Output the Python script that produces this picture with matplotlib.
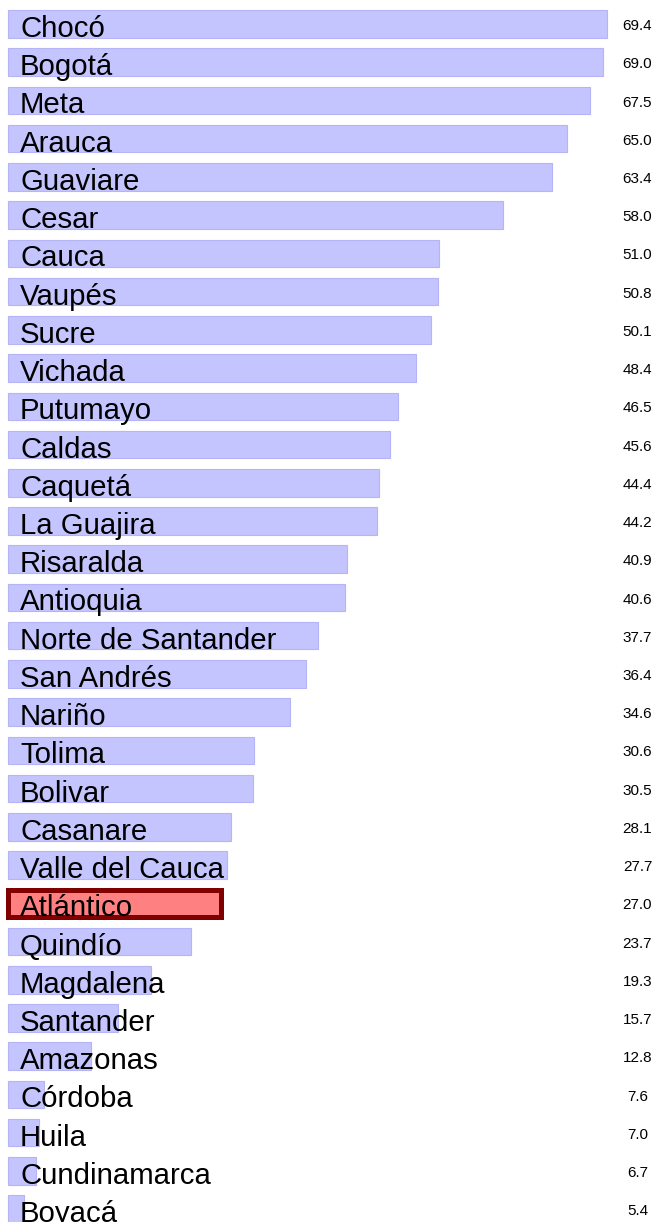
import matplotlib
matplotlib.use("Agg")
import matplotlib.pyplot as plt
import numpy as np

departments = ["Chocó", "Bogotá", "Meta", "Arauca", "Guaviare", "Cesar", "Cauca",
               "Vaupés", "Sucre", "Vichada", "Putumayo", "Caldas", "Caquetá",
               "La Guajira", "Risaralda", "Antioquia", "Norte de Santander",
               "San Andrés", "Nariño", "Tolima", "Bolivar", "Casanare",
               "Valle del Cauca", "Atlántico", "Quindío", "Magdalena", "Santander",
               "Amazonas", "Córdoba", "Huila", "Cundinamarca", "Boyacá"]
values = [69.4, 69.0, 67.5, 65.0, 63.4, 58.0, 51.0, 50.8, 50.1, 48.4, 46.5, 45.6,
          44.4, 44.2, 40.9, 40.6, 37.7, 36.4, 34.6, 30.6, 30.5, 28.1, 27.7, 27.0,
          23.7, 19.3, 15.7, 12.8, 7.6, 7.0, 6.7, 5.4]
highlight = "Atlántico"

plt.rcParams['font.family'] = ['Liberation Sans', 'DejaVu Sans']

fig = plt.figure(figsize=(6.55, 12.22), dpi=100)
ax = fig.add_axes([0, 0, 1, 1])
ax.set_axis_off()

px_per_unit = 9.11
x_offset_px = -25.2
xmin = (0 - x_offset_px) / px_per_unit
xmax = (655 - x_offset_px) / px_per_unit
bar_start = (8 - x_offset_px) / px_per_unit
ax.set_xlim(xmin, xmax)

row_px = 38.23
first_center_px = 24
top = -first_center_px / row_px
bottom = top + 1222 / row_px
ax.set_ylim(bottom, top)

y = np.arange(len(departments))
vals = np.array(values)
colors = ["#ff8080" if d == highlight else "#c4c4ff" for d in departments]
edges = ["#800000" if d == highlight else "#b4b4f6" for d in departments]
lws = [3.6 if d == highlight else 0.8 for d in departments]

ax.barh(y, vals - bar_start, left=bar_start, height=0.72, color=colors,
        edgecolor=edges, linewidth=lws, zorder=2)

label_x = (20 - x_offset_px) / px_per_unit
value_x = (637.5 - x_offset_px) / px_per_unit
for yi, d, v in zip(y, departments, values):
    ax.text(label_x, yi + 0.34, d, fontsize=21.2, va='baseline', ha='left',
            color='black', zorder=3)
    ax.text(value_x, yi + 0.16, f"{v:.1f}", fontsize=11, va='baseline',
            ha='center', color='black', zorder=3)

fig.savefig("out.png", dpi=100)
